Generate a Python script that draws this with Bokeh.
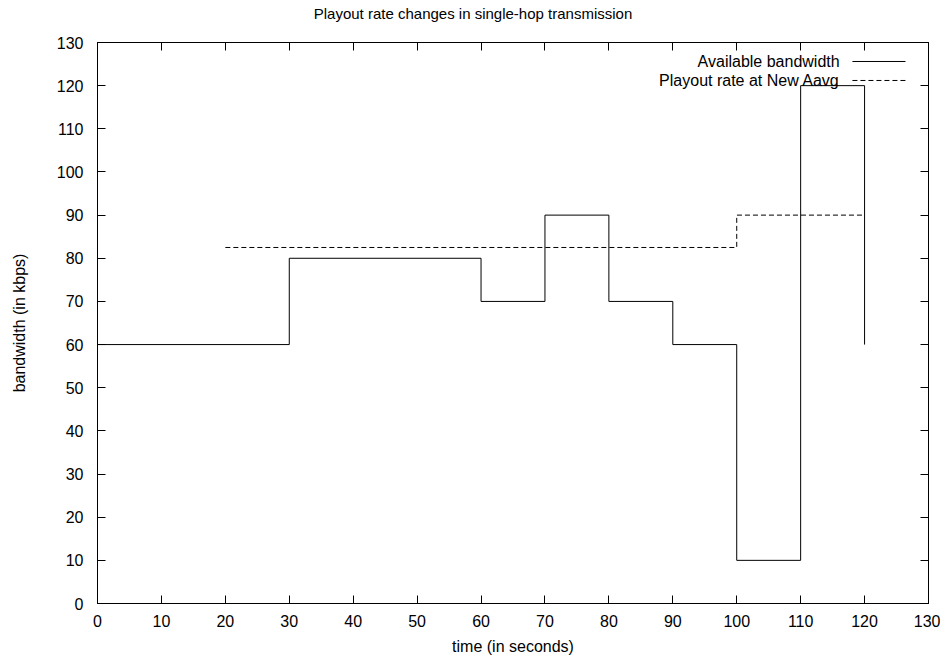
from bokeh.plotting import figure
from bokeh.models import Range1d, LinearAxis, FixedTicker, Label, Div
from bokeh.layouts import column
from bokeh.embed import file_html
from bokeh.resources import INLINE

# Data
bw_time = [0, 30, 60, 70, 80, 90, 100, 110, 120]
bw_kbps = [60, 80, 70, 90, 70, 60, 10, 120, 60]
play_time = [20, 100, 120]
play_kbps = [82.5, 90, 90]
ticks = list(range(0, 131, 10))
title_text = "Playout rate changes in single-hop transmission"

FONT = "Liberation Sans"

title_div = Div(text=title_text, width=936, height=26,
                styles={"text-align": "center", "font-size": "15px", "font-family": FONT,
                        "line-height": "18px", "color": "black", "width": "936px"})

p = figure(width=940, height=624, output_backend="svg", toolbar_location=None,
           x_range=Range1d(0, 130), y_range=Range1d(0, 130), title=None,
           min_border_left=97, min_border_right=12, min_border_top=6, min_border_bottom=57)

p.grid.visible = False
p.outline_line_color = "black"
p.outline_line_width = 1

p.step(bw_time, bw_kbps, mode="after", line_color="black", line_width=1)
p.step(play_time, play_kbps, mode="after", line_color="black", line_width=1, line_dash="5 3")

def style(ax, labels=True):
    ax.ticker = FixedTicker(ticks=ticks)
    ax.major_tick_in = 8
    ax.major_tick_out = 0
    ax.minor_tick_line_color = None
    ax.axis_line_color = "black"
    ax.major_tick_line_color = "black"
    ax.major_label_text_font = FONT
    ax.major_label_text_font_size = "16px"
    ax.major_label_text_color = "black"
    ax.axis_label_text_font = FONT
    ax.axis_label_text_font_size = "16px"
    ax.axis_label_text_font_style = "normal"
    ax.axis_label_text_color = "black"
    if not labels:
        ax.major_label_overrides = {t: "" for t in ticks}
        ax.major_label_standoff = 0

style(p.xaxis[0])
style(p.yaxis[0])
p.xaxis[0].axis_label = "time (in seconds)"
p.yaxis[0].axis_label = "bandwidth (in kbps)"
p.xaxis[0].major_label_standoff = 11
p.xaxis[0].axis_label_standoff = 8
p.yaxis[0].major_label_standoff = 14
p.yaxis[0].axis_label_standoff = 26

top = LinearAxis()
style(top, labels=False)
p.add_layout(top, "above")
right = LinearAxis()
style(right, labels=False)
p.add_layout(right, "right")

# Legend (manual, gnuplot style: text then sample)
leg_text = ["Available bandwidth", "Playout rate at New Aavg"]
leg_y = [125.6, 121.2]
leg_dash = ["solid", "5 3"]
for t, yy, d in zip(leg_text, leg_y, leg_dash):
    p.add_layout(Label(x=116.1, y=yy, text=t, text_align="right", text_baseline="middle",
                       text_font=FONT, text_font_size="16px", text_color="black"))
    p.line([118.1, 126.4], [yy, yy], line_color="black", line_width=1, line_dash=d)

layout = column(title_div, p, spacing=0)
open("out.html", "w").write(file_html(layout, INLINE))
